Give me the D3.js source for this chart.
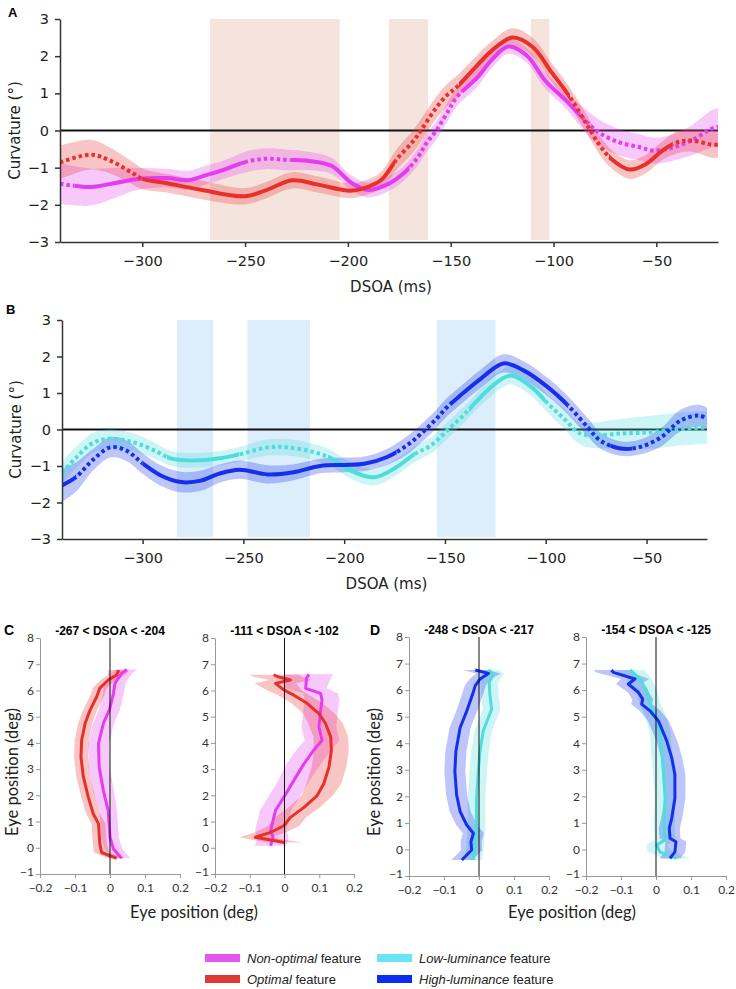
<!DOCTYPE html>
<html><head><meta charset="utf-8">
<script src="https://cdn.jsdelivr.net/npm/d3@7"></script>
<style>body{margin:0;background:#fff}</style>
</head><body><svg id="c" width="736" height="989"></svg>
<script>
// ---------- Panel A data ----------
const aOptT = [-340,-325,-316,-304,-300,-288,-272,-250,-240,-227,-215,-199,-192,-184,-176,-168,-164,-158,-152,-147,-138,-130,-120,-110,-101,-92,-84,-78,-72,-63,-55,-47,-40,-33,-23,-20];
const aOptV = [-0.86,-0.65,-0.8,-1.17,-1.3,-1.42,-1.59,-1.77,-1.61,-1.34,-1.45,-1.62,-1.55,-1.34,-0.76,-0.27,0.04,0.54,0.94,1.17,1.7,2.15,2.5,2.24,1.57,0.9,0.18,-0.36,-0.76,-1.05,-0.9,-0.54,-0.32,-0.27,-0.38,-0.38];
const aOptW = [0.45,0.4,0.35,0.3,0.28,0.25,0.25,0.22,0.22,0.22,0.22,0.2,0.2,0.22,0.28,0.3,0.3,0.3,0.3,0.3,0.28,0.25,0.25,0.25,0.25,0.25,0.25,0.25,0.25,0.25,0.25,0.25,0.3,0.3,0.35,0.35];
const aNonT = [-340,-325,-313,-303,-288,-278,-269,-259,-250,-240,-230,-219,-208,-198,-190,-180,-173,-166,-162,-157,-152,-147,-137,-130,-122,-113,-104,-94,-86,-78,-68,-58,-52,-44,-33,-23,-20];
const aNonV = [-1.43,-1.52,-1.41,-1.31,-1.28,-1.34,-1.2,-1.03,-0.85,-0.76,-0.79,-0.82,-0.95,-1.42,-1.6,-1.43,-1.16,-0.72,-0.36,0,0.45,0.9,1.43,1.9,2.26,2.02,1.34,0.81,0.35,-0.05,-0.32,-0.45,-0.54,-0.49,-0.27,0.05,0.1];
const aNonW = [0.55,0.5,0.4,0.3,0.25,0.25,0.25,0.25,0.28,0.28,0.28,0.25,0.22,0.2,0.2,0.2,0.2,0.22,0.25,0.25,0.25,0.25,0.25,0.22,0.2,0.2,0.22,0.22,0.3,0.35,0.35,0.35,0.35,0.35,0.4,0.5,0.5];
const aOptSolid = [[-300,-177],[-146,-92],[-73,-42]];
const aNonSolid = [[-333,-250],[-228,-170],[-144,-87]];
const aShade = [[-267,-204],[-180,-161],[-111,-102]];

// ---------- Panel B data ----------
const bHighT = [-340,-333,-325,-316,-308,-300,-291,-281,-271,-262,-252,-238,-225,-212,-200,-190,-179,-169,-162,-155,-149,-142,-132,-121,-111,-99,-89,-79,-73,-63,-54,-43,-33,-24,-20];
const bHighV = [-1.53,-1.3,-0.85,-0.49,-0.58,-0.93,-1.26,-1.44,-1.4,-1.21,-1.1,-1.23,-1.17,-1.0,-0.97,-0.94,-0.76,-0.44,-0.12,0.25,0.61,0.95,1.4,1.81,1.62,1.16,0.66,0.05,-0.3,-0.52,-0.49,-0.22,0.25,0.38,0.3];
const bHighW = [0.45,0.4,0.3,0.28,0.28,0.28,0.28,0.28,0.28,0.25,0.25,0.25,0.22,0.2,0.2,0.2,0.22,0.25,0.25,0.25,0.25,0.25,0.25,0.25,0.25,0.25,0.25,0.25,0.22,0.2,0.2,0.25,0.3,0.3,0.3];
const bLowT = [-340,-333,-325,-316,-304,-294,-286,-274,-262,-252,-238,-228,-215,-206,-197,-185,-174,-165,-157,-149,-141,-134,-128,-122,-117,-107,-99,-91,-83,-76,-63,-49,-36,-22,-20];
const bLowV = [-1.18,-0.77,-0.38,-0.25,-0.36,-0.58,-0.79,-0.85,-0.79,-0.68,-0.49,-0.49,-0.62,-0.8,-1.12,-1.31,-1.03,-0.67,-0.44,-0.03,0.38,0.79,1.12,1.38,1.48,1.16,0.71,0.3,-0.11,-0.16,-0.11,-0.08,0,0.05,0.05];
const bLowW = [0.3,0.3,0.28,0.25,0.25,0.22,0.2,0.2,0.2,0.2,0.22,0.22,0.22,0.22,0.22,0.22,0.22,0.22,0.22,0.22,0.22,0.22,0.25,0.25,0.25,0.25,0.25,0.28,0.3,0.35,0.4,0.45,0.45,0.45,0.45];
const bHighSolid = [[-340,-333],[-300,-174],[-147,-89],[-68,-57]];
const bLowSolid = [[-288,-252],[-208,-165],[-138,-100]];
const bShade = [[-283,-265],[-248,-217],[-154,-125]];

const xTicksAB = [-300,-250,-200,-150,-100,-50];
const yTicksAB = [-3,-2,-1,0,1,2,3];

// ---------- Panel C data (eye position profiles) ----------
const cTitles = ["-267 < DSOA < -204", "-111 < DSOA < -102"];
const c1OptY = [-0.4,-0.18,0.15,0.92,1.3,1.93,2.7,3.46,4.1,4.75,5.25,5.76,6.09,6.4,6.59,6.78];
const c1OptX = [0.019,-0.024,-0.029,-0.033,-0.048,-0.062,-0.076,-0.083,-0.081,-0.071,-0.057,-0.038,-0.029,-0.005,0.019,0.025];
const c1OptW = [0.025,0.022,0.02,0.02,0.02,0.02,0.02,0.02,0.02,0.02,0.02,0.02,0.02,0.022,0.025,0.03];
const c1NonY = [-0.4,-0.05,0.4,1.42,2.18,3.08,3.97,4.74,5.25,5.89,6.27,6.65,6.8];
const c1NonX = [0.033,0.01,0,-0.005,-0.019,-0.031,-0.033,-0.019,-0.002,0.01,0.014,0.033,0.048];
const c1NonW = [0.025,0.025,0.025,0.025,0.03,0.03,0.03,0.03,0.03,0.03,0.03,0.03,0.03];
const c2OptY = [0.2,0.4,0.59,0.84,1.16,1.54,1.99,2.44,3.08,3.72,4.23,4.74,5.12,5.51,5.82,6.02,6.27,6.4,6.53,6.6];
const c2OptX = [0.0,-0.084,-0.04,-0.002,0.017,0.056,0.094,0.113,0.128,0.135,0.133,0.118,0.099,0.065,0.027,-0.002,-0.026,0.017,-0.021,-0.031];
const c2OptW = [0.05,0.045,0.045,0.045,0.045,0.045,0.045,0.05,0.05,0.05,0.05,0.05,0.045,0.045,0.045,0.05,0.06,0.06,0.07,0.07];
const c2NonY = [0.08,0.4,0.65,1.42,1.93,2.57,3.2,3.72,4.1,4.61,5.25,5.63,5.89,6.08,6.46,6.62];
const c2NonX = [-0.04,-0.033,-0.04,-0.026,-0.002,0.027,0.056,0.084,0.108,0.099,0.104,0.108,0.104,0.061,0.063,0.07];
const c2NonW = [0.045,0.045,0.045,0.045,0.045,0.045,0.05,0.05,0.05,0.05,0.05,0.05,0.05,0.06,0.07,0.07];

// ---------- Panel D data ----------
const dTitles = ["-248 < DSOA < -217", "-154 < DSOA < -125"];
const d1HighY = [-0.4,-0.02,0.29,0.61,0.92,1.43,2.06,2.94,3.7,4.58,5.21,5.85,6.16,6.42,6.63,6.76];
const d1HighX = [-0.049,-0.021,-0.023,-0.016,-0.035,-0.054,-0.064,-0.069,-0.066,-0.054,-0.035,-0.018,-0.011,0.003,0.027,-0.011];
const d1HighW = [0.03,0.03,0.03,0.03,0.03,0.03,0.03,0.03,0.03,0.03,0.03,0.03,0.03,0.03,0.035,0.035];
const d1LowY = [-0.4,0.17,0.92,1.93,2.94,3.7,4.46,4.97,5.28,5.85,6.29,6.6,6.76];
const d1LowX = [-0.016,-0.011,-0.007,-0.007,-0.002,0.003,0.012,0.027,0.036,0.031,0.029,0.041,0.027];
const d1LowW = [0.025,0.025,0.025,0.025,0.025,0.025,0.025,0.025,0.025,0.025,0.025,0.03,0.03];
const d2HighY = [-0.34,-0.09,0.29,0.42,0.8,1.18,1.93,2.82,3.45,4.08,4.84,5.22,5.47,5.66,5.91,6.23,6.42,6.67,6.76];
const d2HighX = [0.04,0.054,0.057,0.04,0.038,0.045,0.054,0.054,0.045,0.031,0.007,-0.017,-0.041,-0.038,-0.05,-0.079,-0.06,-0.122,-0.127];
const d2HighW = [0.03,0.03,0.03,0.03,0.03,0.03,0.03,0.03,0.03,0.03,0.03,0.03,0.03,0.03,0.03,0.035,0.04,0.05,0.05];
const d2LowY = [-0.34,-0.09,0.17,0.36,0.92,1.93,2.94,3.7,4.46,5.09,5.47,5.97,6.48,6.76];
const d2LowX = [0.059,0.011,0.002,0.026,0.023,0.026,0.021,0.016,0.011,-0.003,-0.017,-0.026,-0.05,-0.074];
const d2LowW = [0.04,0.035,0.03,0.03,0.03,0.03,0.03,0.03,0.03,0.03,0.03,0.03,0.035,0.04];

const xTicksCD = [-0.2,-0.1,0,0.1,0.2];
const yTicksCD = [-1,0,1,2,3,4,5,6,7,8];

// ---------- Legend ----------
const legendItems = [
  {it:"Non-optimal", rest:" feature", color:"#e456ee"},
  {it:"Optimal", rest:" feature", color:"#dc3a32"},
  {it:"Low-luminance", rest:" feature", color:"#68e4f2"},
  {it:"High-luminance", rest:" feature", color:"#0b2df0"}
];

const MAG = "#e43cf0", RED = "#e8302a", CYA = "#4fdcdc", BLU = "#1530ea";

const svg = d3.select("#c");
const defs = svg.append("defs");
let clipCount = 0;
const sansAB = "'DejaVu Sans', sans-serif";
const sansCD = "Lato, 'Open Sans', sans-serif";

function timePanel(opt) {
  const x = d3.scaleLinear().domain([-340,-20]).range([opt.x0, opt.x1]);
  const y = d3.scaleLinear().domain([-3,3]).range([opt.y1, opt.y0]);
  const g = svg.append("g");
  g.selectAll("rect.sh").data(opt.shade).join("rect")
    .attr("x", d => x(d[0])).attr("width", d => x(d[1]) - x(d[0]))
    .attr("y", y(3)).attr("height", y(-3) - y(3) - 2)
    .attr("fill", opt.shadeColor);
  g.append("line").attr("x1", x(-340)).attr("x2", x(-20)).attr("y1", y(0)).attr("y2", y(0))
    .attr("stroke", "#111").attr("stroke-width", 2);
  opt.series.forEach(s => {
    const data = s.t.map((t,i) => ({t, v:s.v[i], w:s.w[i]}));
    g.append("path").datum(data)
      .attr("d", d3.area().x(d => x(d.t)).y0(d => y(d.v - d.w)).y1(d => y(d.v + d.w)).curve(d3.curveCatmullRom))
      .attr("fill", s.color).attr("fill-opacity", 0.28);
  });
  opt.series.forEach(s => {
    const data = s.t.map((t,i) => ({t, v:s.v[i]}));
    const line = d3.line().x(d => x(d.t)).y(d => y(d.v)).curve(d3.curveCatmullRom);
    const dotted = [];
    let prev = -340;
    s.solid.forEach(iv => { if (iv[0] > prev) dotted.push([prev, iv[0]]); prev = iv[1]; });
    if (prev < -20) dotted.push([prev, -20]);
    [[s.solid, null], [dotted, "3.5,3"]].forEach(([ivs, dash]) => {
      const id = "clip" + (clipCount++);
      defs.append("clipPath").attr("id", id).selectAll("rect").data(ivs).join("rect")
        .attr("x", d => x(d[0])).attr("width", d => x(d[1]) - x(d[0]))
        .attr("y", 0).attr("height", 989);
      g.append("path").datum(data).attr("d", line)
        .attr("fill", "none").attr("stroke", s.color).attr("stroke-width", 4)
        .attr("stroke-dasharray", dash).attr("clip-path", `url(#${id})`);
    });
  });
  const xa = g.append("g").attr("transform", `translate(0,${opt.y1})`)
    .call(d3.axisBottom(x).tickValues(xTicksAB).tickSize(5).tickPadding(9).tickSizeOuter(0));
  const ya = g.append("g").attr("transform", `translate(${opt.x0},0)`)
    .call(d3.axisLeft(y).tickValues(yTicksAB).tickFormat(d3.format("d")).tickSize(5).tickPadding(6).tickSizeOuter(0));
  [xa, ya].forEach(a => {
    a.select(".domain").attr("stroke", "#333").attr("stroke-width", 1.5);
    a.selectAll(".tick line").attr("stroke", "#333").attr("stroke-width", 1.5);
    a.selectAll("text").attr("font-family", sansAB).attr("font-size", 14.5).attr("fill", "#222");
  });
  g.append("text").attr("x", (x(-340) + x(-20)) / 2 + 2).attr("y", opt.y1 + 50)
    .attr("text-anchor", "middle").attr("font-family", sansAB).attr("font-size", 15).attr("fill", "#222")
    .text("DSOA (ms)");
  g.append("text").attr("transform", `translate(${opt.ylabX},${y(0)}) rotate(-90)`)
    .attr("text-anchor", "middle").attr("font-family", sansAB).attr("font-size", 15).attr("fill", "#222")
    .text("Curvature (°)");
  g.append("text").attr("x", opt.lx).attr("y", opt.ly).attr("font-family", "'Liberation Sans', Arial, sans-serif")
    .attr("font-weight", "bold").attr("font-size", 13).text(opt.letter);
}

timePanel({x0:60, x1:718, y0:19, y1:242, shade:aShade, shadeColor:"#f5e4de", ylabX:20, lx:8, ly:17, letter:"A",
  series:[{t:aNonT, v:aNonV, w:aNonW, solid:aNonSolid, color:MAG},
          {t:aOptT, v:aOptV, w:aOptW, solid:aOptSolid, color:RED}]});
timePanel({x0:62, x1:707, y0:320, y1:539, shade:bShade, shadeColor:"#dcedfb", ylabX:21, lx:6, ly:314, letter:"B",
  series:[{t:bLowT, v:bLowV, w:bLowW, solid:bLowSolid, color:CYA},
          {t:bHighT, v:bHighV, w:bHighW, solid:bHighSolid, color:BLU}]});

function profilePanel(opt) {
  const x = d3.scaleLinear().domain([-0.2,0.2]).range([opt.x0, opt.x1]);
  const y = d3.scaleLinear().domain([-1,8]).range([opt.y1, opt.y0]);
  const g = svg.append("g");
  opt.series.forEach(s => {
    const data = s.y.map((yy,i) => ({y:yy, x:s.x[i], w:s.w[i]}));
    g.append("path").datum(data)
      .attr("d", d3.area().y(d => y(d.y)).x0(d => x(d.x - d.w)).x1(d => x(d.x + d.w)))
      .attr("fill", s.color).attr("fill-opacity", 0.28);
  });
  opt.series.forEach(s => {
    const data = s.y.map((yy,i) => ({y:yy, x:s.x[i]}));
    g.append("path").datum(data)
      .attr("d", d3.line().x(d => x(d.x)).y(d => y(d.y)))
      .attr("fill", "none").attr("stroke", s.color).attr("stroke-width", 3).attr("stroke-linejoin", "round");
  });
  g.append("line").attr("x1", x(0)).attr("x2", x(0)).attr("y1", y(-1)).attr("y2", y(8))
    .attr("stroke", "#111").attr("stroke-width", 1);
  const fmt = d => d === 0 ? "0" : d3.format(".1f")(d);
  const xa = g.append("g").attr("transform", `translate(0,${opt.y1})`)
    .call(d3.axisBottom(x).tickValues(xTicksCD).tickFormat(fmt).tickSize(4).tickPadding(5).tickSizeOuter(0));
  const ya = g.append("g").attr("transform", `translate(${opt.x0},0)`)
    .call(d3.axisLeft(y).tickValues(yTicksCD).tickSize(4).tickPadding(2).tickSizeOuter(0));
  [xa, ya].forEach(a => {
    a.select(".domain").attr("stroke", "#999").attr("stroke-width", 1);
    a.selectAll(".tick line").attr("stroke", "#999");
    a.selectAll("text").attr("font-family", sansCD).attr("font-size", 12).attr("fill", "#333");
  });
  // lift the lowest y label slightly so it clears the x tick labels
  ya.selectAll(".tick").filter(d => d === -1).select("text").attr("dy", "0.1em");
  g.append("text").attr("x", x(0)).attr("y", opt.y0 - 3).attr("text-anchor", "middle")
    .attr("font-family", "'Liberation Sans', Arial, sans-serif").attr("font-weight", "bold").attr("font-size", 12)
    .text(opt.title);
}

profilePanel({x0:40, x1:180, y0:638, y1:874, title:cTitles[0],
  series:[{y:c1NonY, x:c1NonX, w:c1NonW, color:MAG},{y:c1OptY, x:c1OptX, w:c1OptW, color:RED}]});
profilePanel({x0:215, x1:354, y0:638, y1:874, title:cTitles[1],
  series:[{y:c2NonY, x:c2NonX, w:c2NonW, color:MAG},{y:c2OptY, x:c2OptX, w:c2OptW, color:RED}]});
profilePanel({x0:409, x1:549, y0:637, y1:876, title:dTitles[0],
  series:[{y:d1LowY, x:d1LowX, w:d1LowW, color:CYA},{y:d1HighY, x:d1HighX, w:d1HighW, color:BLU}]});
profilePanel({x0:586, x1:726, y0:637, y1:876, title:dTitles[1],
  series:[{y:d2LowY, x:d2LowX, w:d2LowW, color:CYA},{y:d2HighY, x:d2HighX, w:d2HighW, color:BLU}]});

svg.append("text").attr("x", 4).attr("y", 635).attr("font-family", "'Liberation Sans', Arial, sans-serif")
  .attr("font-weight", "bold").attr("font-size", 14).text("C");
svg.append("text").attr("x", 370).attr("y", 635).attr("font-family", "'Liberation Sans', Arial, sans-serif")
  .attr("font-weight", "bold").attr("font-size", 14).text("D");
[[194, 18], [572, 380]].forEach(([cx, yl]) => {
  svg.append("text").attr("x", cx).attr("y", 918).attr("text-anchor", "middle")
    .attr("font-family", sansCD).attr("font-size", 16.5).attr("fill", "#222").text("Eye position (deg)");
  svg.append("text").attr("transform", `translate(${yl},772) rotate(-90)`).attr("text-anchor", "middle")
    .attr("font-family", sansCD).attr("font-size", 16.5).attr("fill", "#222").text("Eye position (deg)");
});

const lg = svg.append("g").attr("font-family", "'Liberation Sans', Arial, sans-serif").attr("font-size", 13);
legendItems.forEach((d, i) => {
  const col = Math.floor(i / 2), row = i % 2;
  const sx = col === 0 ? 205 : 377, sy = row === 0 ? 958 : 979;
  lg.append("rect").attr("x", sx).attr("y", sy - 4).attr("width", 35).attr("height", 8).attr("fill", d.color);
  const t = lg.append("text").attr("x", sx + 42).attr("y", sy + 4.5).attr("fill", "#222");
  t.append("tspan").attr("font-style", "italic").text(d.it);
  t.append("tspan").text(d.rest);
});
</script></body></html>
